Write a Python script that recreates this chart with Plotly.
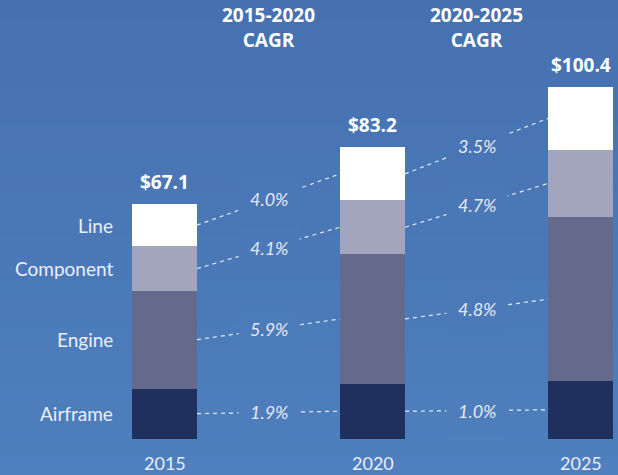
import plotly.graph_objects as go

# data ($ bn)
years = ['2015', '2020', '2025']
segments = ['Airframe', 'Engine', 'Component', 'Line']
airframe = [14.3, 15.7, 16.5]
engine = [28.0, 37.0, 46.7]
component = [12.6, 15.4, 19.4]
line = [12.2, 15.1, 17.8]
totals = ['$67.1', '$83.2', '$100.4']
cagr_1520 = ['1.9%', '5.9%', '4.1%', '4.0%']
cagr_2025 = ['1.0%', '4.8%', '4.7%', '3.5%']
period_labels = ['2015-2020<br>CAGR', '2020-2025<br>CAGR']

colors = ['#1f2f5e', '#636a8c', '#a2a5bb', '#ffffff']
bg_top = (70, 113, 176)
bg_bot = (79, 127, 190)
bar_w = 0.3125
x = list(range(len(years)))
series = [airframe, engine, component, line]
y_lo, y_hi = -10.37, 125.3


def bg_at(frac_from_top):
    c = [round(a + (b - a) * frac_from_top) for a, b in zip(bg_top, bg_bot)]
    return 'rgb({},{},{})'.format(*c)


fig = go.Figure()

for name, vals, c in zip(segments, series, colors):
    fig.add_trace(go.Bar(x=x, y=vals, name=name, marker_color=c,
                         marker_line_width=0, width=bar_w, hoverinfo='skip'))

# midpoints of each segment in each bar
mids = []
for i in range(len(years)):
    base = 0
    col = []
    for vals in series:
        col.append(base + vals[i] / 2)
        base += vals[i]
    mids.append(col)

annos = []
for j, labels in enumerate([cagr_1520, cagr_2025]):
    x0 = j + bar_w / 2
    x1 = j + 1 - bar_w / 2
    for k, lab in enumerate(labels):
        y0 = mids[j][k]
        y1 = mids[j + 1][k]
        ym = (y0 + y1) / 2
        fig.add_trace(go.Scatter(x=[x0, x1], y=[y0, y1], mode='lines',
                                 line=dict(color='rgba(255,255,255,0.85)', width=1.2, dash='4px,4px'),
                                 hoverinfo='skip', showlegend=False))
        # background-coloured box makes the gap in the dashed line
        annos.append(dict(x=(x0 + x1) / 2, y=ym, xref='x', yref='y',
                          text=lab, showarrow=False, bgcolor=bg_at((y_hi - ym) / (y_hi - y_lo)),
                          borderpad=11,
                          font=dict(family='Lato', size=18, color='#e4e9f3', style='italic')))

# segment names on the left
for k, name in enumerate(segments):
    annos.append(dict(x=-0.238, y=mids[0][k], xref='x', yref='y', text=name,
                      xanchor='right', showarrow=False,
                      font=dict(family='Lato', size=19, color='#e8eef8')))

# totals
for i, t in enumerate(totals):
    total = sum(s[i] for s in series)
    annos.append(dict(x=i, y=total, xref='x', yref='y', text='<b>' + t + '</b>',
                      showarrow=False, yshift=22,
                      font=dict(family='Open Sans', size=19, color='white')))

# year labels
for i, yr in enumerate(years):
    annos.append(dict(x=i, y=-6.9, xref='x', yref='y', text=yr, showarrow=False,
                      font=dict(family='Lato', size=18, color='#e8eef8')))

# period headers
for j, p in enumerate(period_labels):
    annos.append(dict(x=j + 0.5, y=1 - 27 / 475, xref='x', yref='paper', text='<b>' + p + '</b>',
                      yanchor='middle', xanchor='center', showarrow=False,
                      font=dict(family='Open Sans', size=19, color='white')))

# soft vertical gradient behind everything
n = 50
shapes = []
for s in range(n):
    shapes.append(dict(type='rect', xref='paper', yref='paper', x0=0, x1=1,
                       y0=1 - (s + 1) / n, y1=1 - s / n + 0.001, layer='below',
                       line_width=0, fillcolor=bg_at((s + 0.5) / n)))

fig.update_layout(
    width=618, height=475,
    margin=dict(l=0, r=0, t=0, b=0),
    paper_bgcolor=bg_at(0.5), plot_bgcolor='rgba(0,0,0,0)',
    barmode='stack', showlegend=False,
    annotations=annos, shapes=shapes,
    xaxis=dict(range=[-0.791, 2.180], visible=False, fixedrange=True),
    yaxis=dict(range=[y_lo, y_hi], visible=False, fixedrange=True),
)

fig.write_html('out.html', config={'displayModeBar': False},
               post_script="document.body.style.margin='0';")
